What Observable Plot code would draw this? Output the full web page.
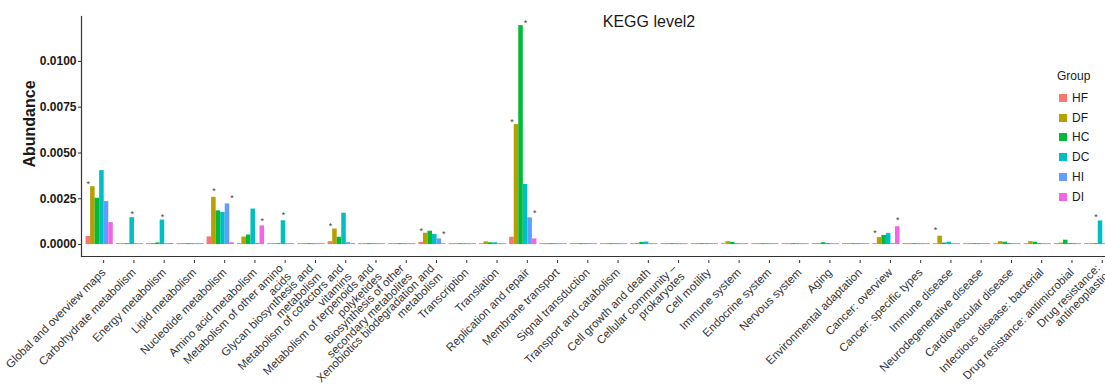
<!DOCTYPE html>
<html><head><meta charset="utf-8">
<script src="https://cdn.jsdelivr.net/npm/d3@7"></script>
<script src="https://cdn.jsdelivr.net/npm/@observablehq/plot@0.6"></script>
<style>
body{margin:0;background:#fff;}
#wrap{position:relative;width:1105px;height:390px;font-family:"Liberation Sans",Arial,sans-serif;color:#1a1a1a;overflow:hidden;}
#title{position:absolute;left:649px;top:14px;transform:translateX(-50%);font-size:16px;line-height:16px;white-space:nowrap;}
#ylab{position:absolute;left:30px;top:124px;transform:translate(-50%,-50%) rotate(-90deg);font-size:16px;font-weight:bold;white-space:nowrap;}
#legend{position:absolute;left:1056px;top:70px;font-size:12px;}
#legend .hd{line-height:12px;margin-left:1px;}
.row{position:absolute;left:3px;height:12px;line-height:12px;white-space:nowrap;}
.sw{position:absolute;left:0;top:2px;width:8px;height:8px;}
.lb{position:absolute;left:13px;top:0;}
svg g[aria-label="y-axis tick label"]{font-weight:bold;}
</style>
</head><body><div id="wrap"><div id="title">KEGG level2</div><div id="ylab">Abundance</div><div id="legend"></div></div>
<script>
const categories = [
  "Global and overview maps","Carbohydrate metabolism","Energy metabolism","Lipid metabolism",
  "Nucleotide metabolism","Amino acid metabolism","Metabolism of other amino\nacids",
  "Glycan biosynthesis and\nmetabolism","Metabolism of cofactors and\nvitamins",
  "Metabolism of terpenoids and\npolyketides","Biosynthesis of other\nsecondary metabolites",
  "Xenobiotics biodegradation and\nmetabolism","Transcription","Translation","Replication and repair",
  "Membrane transport","Signal transduction","Transport and catabolism","Cell growth and death",
  "Cellular community \u2013\nprokaryotes","Cell motility","Immune system","Endocrine system",
  "Nervous system","Aging","Environmental adaptation","Cancer: overview","Cancer: specific types",
  "Immune disease","Neurodegenerative disease","Cardiovascular disease","Infectious disease: bacterial",
  "Drug resistance: antimicrobial","Drug resistance:\nantineoplastic"
];
const groups = ["HF","DF","HC","DC","HI","DI"];
const colors = ["#F8766D","#B79F00","#00BA38","#00BFC4","#619CFF","#F564E3"];

const HF = [0.00044,0.00005,0.00005,0.00005,0.00042,0.00005,0.00005,0.00005,0.00016,0.00005,0.00005,0.00012,0.00005,0.00005,0.00040,0.00005,0.00005,0.00005,0.00005,0.00005,0.00005,0.00005,0.00005,0.00005,0.00005,0.00005,0.00005,0.00005,0.00005,0.00005,0.00005,0.00005,0.00005,0.00005];
const DF = [0.00316,0.00005,0.00006,0.00005,0.00258,0.00041,0.00005,0.00005,0.00085,0.00005,0.00005,0.00062,0.00005,0.00015,0.00655,0.00005,0.00005,0.00005,0.00006,0.00005,0.00005,0.00016,0.00005,0.00005,0.00005,0.00005,0.00038,0.00005,0.00046,0.00005,0.00016,0.00016,0.00008,0.00005];
const HC = [0.00253,0.00005,0.00009,0.00005,0.00184,0.00052,0.00005,0.00005,0.00040,0.00005,0.00005,0.00073,0.00005,0.00010,0.01195,0.00005,0.00005,0.00005,0.00012,0.00005,0.00005,0.00012,0.00005,0.00005,0.00010,0.00005,0.00050,0.00005,0.00008,0.00005,0.00013,0.00013,0.00024,0.00005];
const DC = [0.00404,0.00147,0.00134,0.00005,0.00176,0.00194,0.00130,0.00005,0.00171,0.00005,0.00005,0.00055,0.00005,0.00010,0.00328,0.00005,0.00005,0.00005,0.00014,0.00005,0.00005,0.00005,0.00005,0.00005,0.00006,0.00005,0.00060,0.00005,0.00013,0.00005,0.00006,0.00006,0.00006,0.00129];
const HI = [0.00235,0.00005,0.00005,0.00005,0.00222,0.00007,0.00005,0.00005,0.00010,0.00005,0.00005,0.00031,0.00005,0.00005,0.00146,0.00005,0.00005,0.00005,0.00005,0.00005,0.00005,0.00005,0.00005,0.00005,0.00005,0.00005,0.00005,0.00005,0.00005,0.00005,0.00005,0.00005,0.00006,0.00005];
const DI = [0.00120,0.00005,0.00006,0.00005,0.00010,0.00102,0.00005,0.00005,0.00006,0.00005,0.00005,0.00005,0.00005,0.00005,0.00031,0.00005,0.00005,0.00005,0.00005,0.00005,0.00005,0.00005,0.00005,0.00005,0.00005,0.00005,0.00098,0.00005,0.00005,0.00005,0.00005,0.00005,0.00005,0.00005];

// significance markers: category index, group, marker height
const starCategory = [0,1,2,4,4,5,6,8,11,11,14,14,14,26,26,28,33];
const starGroup = ["HF","DC","DC","DF","DI","DI","DC","HF","HF","DI","HF","DC","DI","HF","DI","HF","HC"];
const starHeight = [0.00343,0.00176,0.00163,0.00302,0.00264,0.00138,0.00171,0.00112,0.00085,0.00067,0.00680,0.01219,0.00185,0.00076,0.00144,0.00089,0.00163];

const yTicks = [0, 0.0025, 0.005, 0.0075, 0.01];

const series = {HF, DF, HC, DC, HI, DI};
const dodge = 0.9 / groups.length;
const rows = categories.flatMap((c, i) => groups.map((g, j) => ({category: c, i, group: g, j, value: series[g][i]})));
const starRows = starCategory.map((c, k) => ({i: c, j: groups.indexOf(starGroup[k]), y: starHeight[k]}));

const chart = Plot.plot({
  width: 1105, height: 390,
  marginLeft: 81, marginRight: 0, marginTop: 16, marginBottom: 134,
  style: {fontFamily: '"Liberation Sans", Arial, sans-serif', background: "transparent", color: "#333"},
  x: {domain: [-0.6, 33.24], axis: null},
  y: {domain: [-0.00065, 0.01245], axis: null},
  color: {domain: groups, range: colors},
  marks: [
    Plot.rectY(rows, {x1: d => d.i + (d.j - 3) * dodge, x2: d => d.i + (d.j - 2) * dodge, y: "value", fill: "group"}),
    Plot.text(starRows, {x: d => d.i + (d.j - 2.5) * dodge, y: "y", text: () => "*", fontSize: 9, fill: "#444", dy: 2}),
    Plot.axisY({ticks: yTicks, tickFormat: d3.format(".4f"), tickSize: 3, tickPadding: 2, fontSize: 12, fontWeight: "bold", fill: "#1a1a1a", label: null}),
    Plot.axisX({ticks: d3.range(categories.length), tickFormat: i => categories[i], tickRotate: -45, tickSize: 3, tickPadding: 7, dx: 4, dy: 4, fontSize: 11.5, fill: "#333", label: null}),
    Plot.frame({anchor: "left", stroke: "#333", strokeWidth: 1.2}),
    Plot.frame({anchor: "bottom", stroke: "#333", strokeWidth: 1.2})
  ]
});
document.getElementById("wrap").appendChild(chart);

const legend = document.getElementById("legend");
const hd = document.createElement("div"); hd.className = "hd"; hd.textContent = "Group"; legend.appendChild(hd);
groups.forEach((g, k) => {
  const r = document.createElement("div"); r.className = "row";
  r.style.top = (22 + k * 19.7) + "px";
  const s = document.createElement("div"); s.className = "sw"; s.style.background = colors[k];
  const l = document.createElement("div"); l.className = "lb"; l.textContent = g;
  r.appendChild(s); r.appendChild(l); legend.appendChild(r);
});
</script>
</body></html>
